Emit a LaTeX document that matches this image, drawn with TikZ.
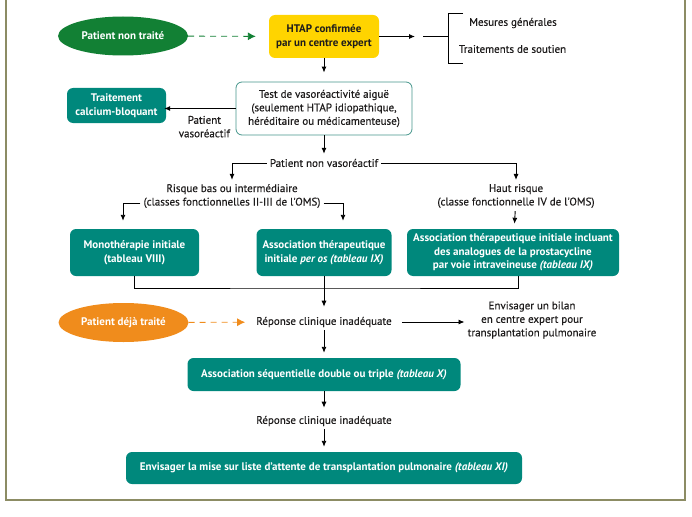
\documentclass[tikz,border=0pt]{standalone}
\usepackage{fontspec}
\setmainfont{PT Sans}
\newfontfamily\moyen[FakeBold=0.35]{PT Sans}
\usetikzlibrary{shapes.geometric,arrows.meta}

\definecolor{sarcelle}{RGB}{0,136,124}
\definecolor{sarcelleclair}{RGB}{70,150,140}
\definecolor{vertfonce}{RGB}{18,128,52}
\definecolor{orangevif}{RGB}{240,140,28}
\definecolor{jaune}{RGB}{255,212,0}
\definecolor{olive}{RGB}{140,140,100}
\definecolor{encre}{RGB}{30,28,28}

\begin{document}
\begin{tikzpicture}[x=1pt,y=-1pt,
  boite/.style={rectangle, rounded corners=6pt, fill=sarcelle, text=white,
    font=\fontsize{11}{13.5}\selectfont\bfseries, align=center, inner sep=2pt},
  ovale/.style={ellipse, minimum width=130pt, minimum height=39pt, text=white,
    font=\fontsize{11}{13.5}\selectfont\bfseries, inner sep=1pt},
  cadretest/.style={rectangle, rounded corners=6pt, draw=sarcelleclair, fill=white,
    line width=0.8pt, text=encre, font=\moyen\fontsize{11}{13.5}\selectfont, align=center, inner sep=2pt},
  etiquette/.style={text=encre, font=\moyen\fontsize{11}{13.5}\selectfont, align=center, inner sep=3pt},
  trait/.style={line width=0.9pt},
  fleche/.style={trait, -{Latex[length=6pt,width=5pt]}},
  tirets/.style={trait, dash pattern=on 6pt off 5pt, -{Latex[length=8pt,width=8pt]}},
  cadre/.style={draw=olive, line width=1.2pt}]

  \useasboundingbox (0,0) rectangle (692,516);

  % frame
  \draw[cadre] (6,-2) -- (6,500) -- (685,500) -- (685,-2);

  % nodes
  \node[ovale, fill=vertfonce] (nontraite) at (123,36) {Patient non traité};
  \node[boite, fill=jaune, text=encre, minimum width=110pt, minimum height=43pt] (htap) at (324,36.5) {HTAP confirmée\\par un centre expert};
  \node[etiquette] (mesures) at (513,23) {Mesures générales};
  \node[etiquette] (soutien) at (512.5,49) {Traitements de soutien};
  \node[cadretest, minimum width=176pt, minimum height=53pt] (test) at (324,108.5) {Test de vasoréactivité aiguë\\(seulement HTAP idiopathique,\\héréditaire ou médicamenteuse)};
  \node[boite, minimum width=99pt, minimum height=35pt] (calcium) at (116.5,105.5) {Traitement\\calcium-bloquant};
  \node[etiquette] (nonvaso) at (324,163) {Patient non vasoréactif};
  \node[etiquette] (risquebas) at (232,196) {Risque bas ou intermédiaire\\(classes fonctionnelles II-III de l'OMS)};
  \node[etiquette] (haut) at (516,196) {Haut risque\\(classe fonctionnelle IV de l'OMS)};
  \node[boite, minimum width=129pt, minimum height=47pt] (mono) at (134.5,252.5) {Monothérapie initiale\\(tableau VIII)};
  \node[boite, minimum width=135pt, minimum height=47pt] (peros) at (324,252.5) {Association thérapeutique\\initiale \textit{per os (tableau IX)}};
  \node[boite, minimum width=212pt, minimum height=47pt] (iv) at (513,252.5) {Association thérapeutique initiale incluant\\des analogues de la prostacycline\\par voie intraveineuse \textit{(tableau IX)}};
  \node[ovale, fill=orangevif] (deja) at (123.5,322.5) {Patient déjà traité};
  \node[etiquette] (reponse1) at (324,322) {Réponse clinique inadéquate};
  \node[etiquette] (bilan) at (532,320) {Envisager un bilan\\en centre expert pour\\transplantation pulmonaire};
  \node[boite, minimum width=273pt, minimum height=33pt] (sequentielle) at (324,374.5) {Association séquentielle double ou triple \textit{(tableau X)}};
  \node[etiquette] (reponse2) at (324,421) {Réponse clinique inadéquate};
  \node[boite, minimum width=396pt, minimum height=32pt] (liste) at (324,468) {Envisager la mise sur liste d'attente de transplantation pulmonaire \textit{(tableau XI)}};
  \coordinate (fin) at (415,36.5);
  \coordinate (jonction) at (324,288);

  % arrows
  \draw[tirets, draw=vertfonce, shorten >=13pt] (nontraite) -- (htap);
  \draw[fleche] (htap) -- (fin);
  \draw[trait] (423,36.5) -- (448,36.5) (463,13) -- (448,13) -- (448,63) -- (463,63);
  \draw[fleche, shorten >=9pt] (htap) -- (test);
  \draw[fleche, shorten >=-2pt] (test.west) -- (test.west -| calcium.east)
    node[etiquette, pos=0.45, below=4pt] (vasoreactif) {Patient\\vasoréactif};
  \draw[fleche, shorten >=2pt] (test) -- (nonvaso);
  \draw[fleche, shorten >=1pt] (nonvaso.west) -| (risquebas);
  \draw[fleche, shorten >=1pt] (nonvaso.east) -| (haut);
  \draw[fleche, shorten >=8pt] ([yshift=-7pt]risquebas.west) -| ([xshift=-11.5pt]mono.north);
  \draw[fleche, shorten >=8pt] ([yshift=-7pt]risquebas.east) -| ([xshift=19pt]peros.north);
  \draw[fleche, shorten >=5pt] (haut) -- (iv);
  \draw[trait] (mono.south) |- (jonction) -| ([xshift=5pt]iv.south);
  \draw[fleche, shorten >=7pt] (peros) -- (reponse1);
  \draw[tirets, draw=orangevif, shorten >=8pt] (deja) -- (reponse1);
  \draw[fleche, shorten <=7pt] (reponse1.east) -- (reponse1.east -| bilan.west);
  \draw[fleche, shorten >=5pt] (reponse1) -- (sequentielle);
  \draw[fleche, shorten >=5pt] (sequentielle) -- (reponse2);
  \draw[fleche, shorten >=5pt] (reponse2) -- (liste);

\end{tikzpicture}
\end{document}
